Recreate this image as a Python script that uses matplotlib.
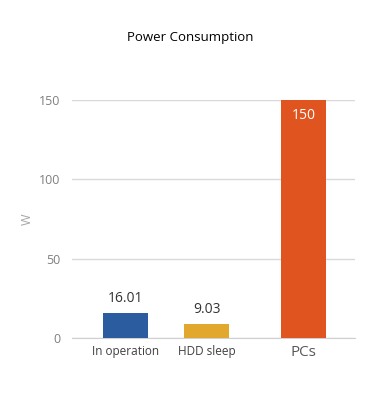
import matplotlib.pyplot as plt

# data
categories = ['In operation', 'HDD sleep', 'PCs']
values = [16.01, 9.03, 150]
value_labels = ['16.01', '9.03', '150']
positions = [0, 1, 2.2]
colors = ['#2B5C9F', '#E2A82E', '#E05420']
yticks = [0, 50, 100, 150]

plt.rcParams['font.family'] = ['Open Sans', 'DejaVu Sans']

fig = plt.figure(figsize=(3.8, 4.2), dpi=100)
ax = fig.add_axes([0.189, 0.195, 0.745, 0.567])

bars = ax.bar(positions, values, width=0.556, color=colors, zorder=3)

ax.set_ylim(0, 150)
ax.set_xlim(-0.667, 2.83)
ax.set_yticks(yticks)
ax.set_xticks(positions)
ax.set_xticklabels(categories)
ax.grid(axis='y', color='#d9d9d9', linewidth=1, zorder=0)
ax.set_axisbelow(True)

for s in ['top', 'right', 'left']:
    ax.spines[s].set_visible(False)
ax.spines['bottom'].set_color('#d0d0d0')
ax.tick_params(axis='both', length=0)
ax.tick_params(axis='y', colors='#7f7f7f', labelsize=9, pad=8)
ax.tick_params(axis='x', colors='#404040', labelsize=8.5, pad=5)
xl = ax.get_xticklabels()
xl[2].set_fontsize(11)
xl[2].set_color('#595959')

ax.set_ylabel('W', color='#a6a6a6', fontsize=9, labelpad=4)

# value labels
for b, v, lab in zip(bars, values, value_labels):
    cx = b.get_x() + b.get_width() / 2
    if v > 100:
        ax.text(cx, v - 5, lab, ha='center', va='top', color='white', fontsize=10)
    else:
        ax.text(cx, v + 4, lab, ha='center', va='bottom', color='#333333', fontsize=10)

fig.suptitle('Power Consumption', y=0.925, fontsize=9.5, color='black')

fig.savefig('out.png', dpi=100)
